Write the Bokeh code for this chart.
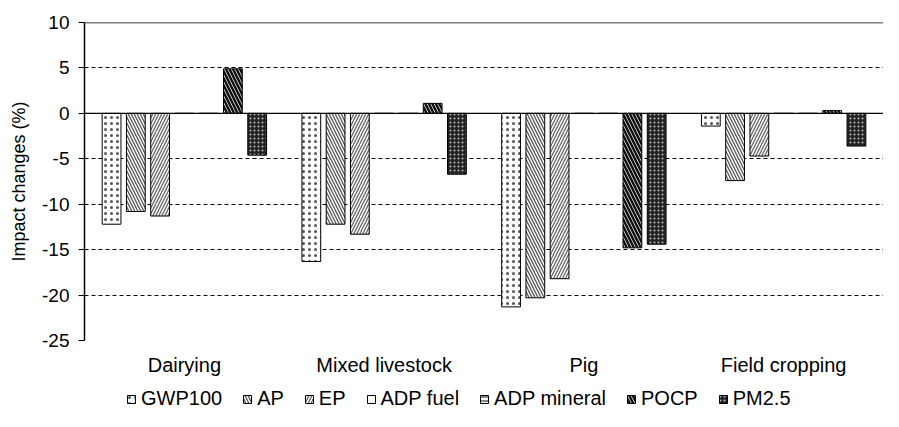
from bokeh.plotting import figure
from bokeh.models import FactorRange, Span, Legend, LegendItem, FixedTicker, ColumnDataSource
from bokeh.layouts import column
from bokeh.transform import dodge
from bokeh.embed import file_html
from bokeh.resources import INLINE

categories = ["Dairying", "Mixed livestock", "Pig", "Field cropping"]
series = ["GWP100", "AP", "EP", "ADP fuel", "ADP mineral", "POCP", "PM2.5"]
gwp100 = [-12.2, -16.3, -21.3, -1.4]
ap = [-10.8, -12.2, -20.3, -7.4]
ep = [-11.3, -13.3, -18.2, -4.7]
adp_fuel = [0.0, 0.0, 0.0, 0.0]
adp_mineral = [0.0, 0.0, 0.0, 0.0]
pocp = [4.9, 1.1, -14.8, 0.3]
pm25 = [-4.6, -6.7, -14.4, -3.6]
y_ticks = [-25, -20, -15, -10, -5, 0, 5, 10]

values = [gwp100, ap, ep, adp_fuel, adp_mineral, pocp, pm25]
styles = [
    dict(fill_color="white", hatch_pattern=".", hatch_color="#555555", hatch_scale=6, hatch_weight=1.5),
    dict(fill_color="white", hatch_pattern="\\", hatch_color="#555555", hatch_scale=6, hatch_weight=1.3),
    dict(fill_color="white", hatch_pattern="/", hatch_color="#666666", hatch_scale=6, hatch_weight=1.3),
    dict(fill_color="white"),
    dict(fill_color="white", hatch_pattern="-", hatch_color="#333333", hatch_scale=4, hatch_weight=1.2),
    dict(fill_color="white", hatch_pattern="\\", hatch_color="#111111", hatch_scale=7, hatch_weight=2.5),
    dict(fill_color="#222222", hatch_pattern=".", hatch_color="#bbbbbb", hatch_scale=4, hatch_weight=1.5),
]

data = {"cat": categories}
for s, v in zip(series, values):
    data[s] = v
source = ColumnDataSource(data)

p = figure(x_range=FactorRange(*categories), y_range=(-25, 10),
           frame_width=799, frame_height=318,
           output_backend="svg", toolbar_location=None,
           min_border_left=84, min_border_top=22, min_border_right=0, min_border_bottom=0)
p.outline_line_color = None
p.background_fill_color = "white"

step = 0.1215
bw = 0.094
for i, (s, st) in enumerate(zip(series, styles)):
    p.vbar(x=dodge("cat", (i - 3) * step, range=p.x_range), top=s, bottom=0, width=bw,
           source=source, line_color="black", line_width=1, **st)

p.xgrid.visible = False
p.ygrid.grid_line_color = "black"
p.ygrid.grid_line_dash = "4 3"
p.ygrid.grid_line_width = 1
p.ygrid.ticker = FixedTicker(ticks=y_ticks)

p.add_layout(Span(location=0, dimension="width", line_color="black", line_width=1.2))
p.add_layout(Span(location=10, dimension="width", line_color="black", line_width=1.5))

p.yaxis.ticker = FixedTicker(ticks=y_ticks)
p.yaxis.major_label_overrides = {t: str(t) for t in y_ticks}
p.yaxis.axis_label = "Impact changes (%)"
p.yaxis.axis_label_text_font = "Liberation Sans"
p.yaxis.axis_label_text_font_size = "18px"
p.yaxis.axis_label_text_font_style = "normal"
p.yaxis.axis_label_text_color = "black"
p.yaxis.axis_label_standoff = 10
p.yaxis.major_label_text_font = "Liberation Sans"
p.yaxis.major_label_text_font_size = "19px"
p.yaxis.major_label_standoff = 9
p.yaxis.major_tick_out = 6
p.yaxis.major_tick_in = 0
p.yaxis.minor_tick_line_color = None
p.yaxis.axis_line_color = "black"
p.yaxis.axis_line_width = 1.5
p.yaxis.major_label_text_color = "black"

p.xaxis.axis_line_color = None
p.xaxis.major_tick_line_color = None
p.xaxis.major_tick_out = 0
p.xaxis.major_label_standoff = 13
p.xaxis.major_label_text_font = "Liberation Sans"
p.xaxis.major_label_text_font_size = "20px"
p.xaxis.major_label_text_color = "black"

# legend strip below the chart (swatches only; the placeholder bars are NaN, nothing drawn)
lg = figure(width=883, height=35, x_range=(0, 1), y_range=(0, 1),
            output_backend="svg", toolbar_location=None, min_border=0)
lg.axis.visible = False
lg.grid.visible = False
lg.outline_line_color = None
nan = float("nan")
items = []
for s, st in zip(series, styles):
    r = lg.vbar(x=[nan], top=[nan], bottom=[nan], width=0.1, line_color="black", line_width=1, **st)
    items.append(LegendItem(label=s, renderers=[r]))
legend = Legend(items=items, orientation="horizontal", location=(42, 3),
                label_text_font="Liberation Sans", label_text_font_size="20px",
                label_text_color="black", label_height=20,
                glyph_width=10, glyph_height=10, label_standoff=5, spacing=20,
                padding=0, margin=0, border_line_color=None, background_fill_alpha=0)
lg.add_layout(legend, "center")

layout = column(p, lg, spacing=0)
open("out.html", "w").write(file_html(layout, INLINE))
